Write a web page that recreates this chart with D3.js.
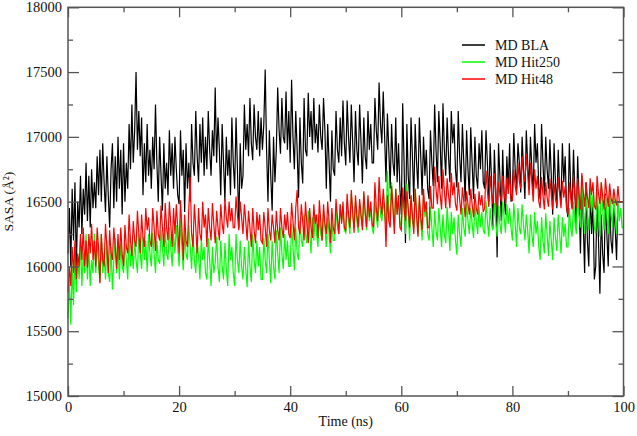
<!DOCTYPE html>
<html><head><meta charset="UTF-8">
<script src="https://cdn.jsdelivr.net/npm/d3@7"></script>
<style>
  body { margin: 0; background: white; }
  svg { font-family: "Liberation Serif", "Times New Roman", serif; }
  .tick text { font-family: "Liberation Serif", "Times New Roman", serif; font-size: 14.5px; fill: #111; }
  .tick line { stroke: #555; stroke-width: 1.3; }
</style>
</head>
<body>
<svg id="chart"></svg>
<script>
var seriesNames = ["MD BLA", "MD Hit250", "MD Hit48"];
var seriesColors = ["#000000", "#00ff00", "#ff0000"];

// SASA values, every 0.25 ns from 0 to 100 (one row = 5 ns)
var sasaBLA = [
  16100,16450,16000,16600,16200,16650,15980,16500,16300,16700,16250,16600,16400,16800,16350,16700,16300,16750,16450,16650,
  16450,16850,16550,16900,16500,16950,16650,16420,16850,16550,16300,16750,16950,16450,16850,16500,17000,16600,16900,16400,
  16950,16500,16800,16600,17100,16750,17250,16800,17050,17500,16900,17200,16850,17150,16550,16950,16650,17100,16700,16900,
  16600,17000,16750,17250,16800,16500,17000,16700,16430,16950,16600,16800,16550,17050,16700,16950,16600,17000,16750,16550,
  16480,17050,16700,16900,16420,16950,16600,16800,16500,17100,16800,16700,17200,16850,16650,17100,16800,17150,16700,17000,
  16750,17200,16900,16700,17050,16850,17380,16800,17150,16900,16550,17100,16800,16500,17000,16700,16900,16550,17150,16800,
  16600,17150,16750,16300,16950,16600,16700,17250,16900,17100,16850,17300,16950,16820,17250,17000,16900,17200,16850,17150,
  16900,17100,17520,16900,16500,17050,16700,16430,17000,16650,16900,17380,17050,16870,17300,17000,16950,17350,16900,17200,
  16800,17440,17000,16750,17200,16900,16530,17150,16800,16640,17300,16900,16850,17340,17000,17200,16900,17300,16950,17100,
  16880,17250,17000,16900,17300,17050,16600,17100,16800,16500,17050,16750,16700,17200,16900,16800,17150,16850,17280,16950,
  16780,17280,17000,16800,17250,16950,16650,17200,16900,16780,17250,16950,16640,17150,16850,16750,17200,16900,17100,16800,
  16800,17300,17050,16900,17420,17100,16950,17350,17000,16650,17180,16900,16600,17100,16800,16700,17150,16650,16950,16600,
  16400,17260,16800,16180,17100,16700,16520,17150,16850,16500,17100,16800,16600,17150,16850,16550,17000,16700,16900,16600,
  16520,17050,16800,16620,17250,16900,16650,17200,16950,16600,17260,16900,16700,17150,16850,16650,17200,16950,17100,16750,
  16610,17200,16850,16650,17100,16800,16500,17050,16750,16550,17075,16800,16520,17000,16700,16600,16950,16750,17050,16650,
  16600,17050,16800,16500,16950,16650,16300,16900,16600,16070,16950,16700,16350,16900,16550,16400,16850,16600,16950,16500,
  16550,17030,16750,16600,16950,16800,16570,17000,16750,16520,17050,16800,16600,17000,16750,16550,17100,16800,16950,16600,
  16520,17100,16800,16550,17000,16750,16600,16980,16700,16400,16950,16650,16450,16900,16600,16500,16950,16650,16850,16450,
  16380,16950,16600,16450,16900,16550,16300,16850,16500,16100,16700,16350,15950,16650,16200,16000,16600,16250,16500,15900,
  16000,16550,16200,15790,16400,16100,15950,16560,16250,16000,16500,16200,16100,16450,16300,16050,16500,16500,16500,16500,
  16500
];
var sasaHit250 = [
  15600,15900,15550,16000,15700,16100,15800,16050,15900,16200,15850,16100,15950,16250,15900,16150,15850,16050,15950,16250,
  15950,16200,16000,15880,16250,15950,16100,15900,16200,15950,15880,16150,15820,16050,16220,15950,16150,15900,16180,16000,
  15950,16180,16050,15900,16250,16000,16150,15980,16200,16050,15950,16250,16100,15980,16230,16050,16200,15960,16250,16100,
  16000,16260,16100,15950,16200,16050,16020,16280,16150,16000,16300,16100,16050,16300,16150,16000,16250,16100,16320,16150,
  16000,16360,16150,15970,16280,16100,16050,16320,16150,15980,16250,16050,15950,16200,16080,15900,16220,16050,16150,15950,
  15900,16220,16050,15850,16150,15950,16030,16230,16000,15880,16200,16000,15900,16180,15980,15850,16250,16050,16150,15950,
  15850,16250,16050,15950,16200,16000,15900,16150,15980,15840,16200,16000,15880,16250,16050,15950,16200,16000,16150,15900,
  15900,16220,16050,15950,16250,16050,15870,16200,16000,15900,16280,16100,15950,16300,16100,15980,16250,16050,16200,16000,
  16000,16330,16150,15970,16300,16100,16050,16350,16200,16150,16400,16250,16180,16430,16280,16100,16380,16200,16400,16250,
  16150,16400,16250,16200,16430,16300,16150,16380,16250,16100,16350,16200,16200,16450,16300,16250,16480,16350,16420,16280,
  16260,16500,16350,16250,16560,16400,16300,16500,16350,16260,16480,16380,16300,16560,16400,16280,16520,16350,16450,16300,
  16250,16500,16380,16300,16550,16400,16350,16500,16420,16300,16740,16450,16350,16650,16450,16300,16600,16400,16550,16350,
  16300,16600,16450,16250,16640,16400,16200,16550,16350,16300,16600,16400,16250,16500,16350,16200,16550,16380,16450,16250,
  16200,16460,16300,16150,16430,16280,16200,16450,16300,16150,16400,16250,16180,16460,16300,16120,16420,16250,16380,16200,
  16090,16400,16250,16150,16450,16300,16230,16490,16350,16250,16450,16330,16220,16480,16350,16250,16460,16300,16420,16280,
  16250,16500,16350,16230,16450,16320,16280,16490,16350,16230,16470,16330,16250,16500,16380,16260,16480,16330,16450,16300,
  16200,16490,16330,16150,16450,16300,16250,16480,16320,16200,16400,16280,16100,16400,16250,16150,16420,16250,16350,16150,
  16050,16380,16200,16100,16410,16250,16080,16350,16200,16050,16380,16220,16120,16400,16250,16100,16380,16230,16330,16150,
  16150,16450,16300,16230,16500,16350,16250,16600,16400,16300,16690,16450,16250,16550,16400,16280,16600,16420,16550,16300,
  16250,16600,16400,16230,16650,16450,16280,16550,16400,16250,16600,16420,16300,16550,16400,16250,16500,16350,16450,16300,
  16300
];
var sasaHit48 = [
  15800,16000,15850,16150,15950,16200,15900,16100,16000,16250,16050,16300,16000,16200,15990,16250,16100,16330,16050,16200,
  16000,16300,16150,15870,16250,16050,16000,16330,16150,15950,16280,16100,16050,16300,16150,15980,16250,16050,16300,16100,
  16000,16320,16150,16100,16400,16200,16080,16350,16200,16150,16430,16250,16100,16400,16220,16150,16450,16280,16380,16200,
  16150,16450,16300,16120,16430,16250,16200,16470,16300,16150,16490,16300,16200,16500,16330,16150,16450,16250,16480,16300,
  16100,16510,16300,16050,16400,16200,16150,16450,16690,16250,16150,16480,16300,16100,16450,16250,16200,16500,16300,16400,
  16150,16450,16300,16200,16490,16320,16180,16430,16300,16200,16480,16330,16250,16520,16380,16300,16500,16350,16450,16300,
  16300,16540,16400,16280,16500,16380,16250,16480,16350,16200,16430,16300,16150,16450,16280,16180,16420,16280,16400,16200,
  16180,16420,16300,16150,16450,16280,16200,16400,16300,16180,16430,16280,16200,16450,16300,16220,16400,16280,16420,16250,
  16220,16490,16350,16200,16450,16590,16300,16250,16480,16350,16200,16500,16330,16180,16450,16300,16220,16480,16330,16400,
  16220,16510,16350,16200,16480,16330,16250,16500,16350,16180,16450,16300,16250,16520,16380,16250,16480,16330,16500,16300,
  16280,16560,16400,16300,16590,16420,16260,16550,16400,16300,16520,16400,16280,16580,16420,16300,16550,16380,16500,16330,
  16300,16650,16450,16350,16690,16500,16400,16600,16450,16150,16550,16350,16300,16620,16450,16250,16600,16400,16550,16300,
  16280,16610,16450,16350,16580,16450,16300,16550,16400,16250,16600,16400,16230,16550,16380,16280,16600,16420,16500,16300,
  16300,16620,16450,16450,16770,16600,16480,16700,16550,16440,16750,16580,16450,16680,16550,16450,16720,16550,16650,16480,
  16430,16650,16520,16400,16610,16500,16380,16580,16480,16400,16600,16480,16380,16560,16450,16400,16580,16470,16550,16420,
  16450,16740,16580,16460,16700,16560,16480,16720,16580,16460,16650,16550,16500,16700,16580,16480,16680,16560,16720,16520,
  16510,16750,16620,16550,16800,16650,16600,16850,16700,16650,16870,16720,16550,16800,16650,16500,16750,16600,16700,16500,
  16450,16690,16550,16440,16650,16530,16460,16680,16550,16440,16640,16520,16470,16690,16560,16450,16660,16530,16620,16460,
  16400,16650,16530,16440,16700,16560,16450,16680,16550,16440,16720,16580,16460,16650,16540,16450,16680,16550,16650,16470,
  16440,16700,16560,16480,16650,16540,16440,16680,16560,16460,16640,16530,16480,16600,16520,16470,16620,16500,16500,16500,
  16500
];

var xTicks = [0, 20, 40, 60, 80, 100];
var xMinorTicks = [10, 30, 50, 70, 90];
var yTicks = [15000, 15500, 16000, 16500, 17000, 17500, 18000];
var yMinorTicks = [15250, 15750, 16250, 16750, 17250, 17750];

var width = 637, height = 436;
var padding = {top: 7.3, left: 68, bottom: 40, right: 13.5};

var svg = d3.select("#chart").attr("width", width).attr("height", height);

var xScale = d3.scaleLinear().domain([0, 100])
  .range([padding.left, width - padding.right]);
var yScale = d3.scaleLinear().domain([15000, 18000])
  .range([height - padding.bottom, padding.top]);

function tracePath(values) {
  var step = 100 / (values.length - 1);
  return d3.line()
    .x(function (d, i) { return xScale(i * step); })
    .y(function (d) { return yScale(d); })(values);
}

var allSeries = [sasaBLA, sasaHit250, sasaHit48];
svg.append("g").selectAll("path")
  .data(allSeries)
  .enter().append("path")
  .attr("d", tracePath)
  .attr("fill", "none")
  .attr("stroke", function (d, i) { return seriesColors[i]; })
  .attr("stroke-width", 1.2);

// axes, ticks pointing inward on all four sides
function addAxis(axis, tx, ty) {
  var g = svg.append("g").attr("transform", "translate(" + tx + "," + ty + ")").call(axis);
  g.select(".domain").remove();
  g.attr("font-family", null).attr("font-size", null);
  return g;
}
var y0 = height - padding.bottom, x1 = width - padding.right;

addAxis(d3.axisBottom(xScale).tickValues(xTicks).tickSizeInner(-10).tickSizeOuter(0).tickPadding(6), 0, y0);
addAxis(d3.axisBottom(xScale).tickValues(xMinorTicks).tickSizeInner(-5).tickSizeOuter(0).tickFormat(""), 0, y0);
addAxis(d3.axisTop(xScale).tickValues(xTicks).tickSizeInner(-10).tickSizeOuter(0).tickFormat(""), 0, padding.top);
addAxis(d3.axisTop(xScale).tickValues(xMinorTicks).tickSizeInner(-5).tickSizeOuter(0).tickFormat(""), 0, padding.top);

addAxis(d3.axisLeft(yScale).tickValues(yTicks).tickSizeInner(-11).tickSizeOuter(0).tickPadding(6).tickFormat(d3.format("d")), padding.left, 0);
addAxis(d3.axisLeft(yScale).tickValues(yMinorTicks).tickSizeInner(-5).tickSizeOuter(0).tickFormat(""), padding.left, 0);
addAxis(d3.axisRight(yScale).tickValues(yTicks).tickSizeInner(-11).tickSizeOuter(0).tickFormat(""), x1, 0);
addAxis(d3.axisRight(yScale).tickValues(yMinorTicks).tickSizeInner(-5).tickSizeOuter(0).tickFormat(""), x1, 0);

// frame
svg.append("rect")
  .attr("x", padding.left).attr("y", padding.top)
  .attr("width", x1 - padding.left).attr("height", y0 - padding.top)
  .attr("fill", "none").attr("stroke", "#555").attr("stroke-width", 1.5);

// axis titles
svg.append("text")
  .attr("x", (padding.left + x1) / 2).attr("y", 426)
  .attr("text-anchor", "middle").attr("font-size", 14).attr("fill", "#111")
  .text("Time (ns)");
svg.append("text")
  .attr("transform", "translate(13," + ((padding.top + y0) / 2) + ") rotate(-90)")
  .attr("text-anchor", "middle").attr("font-size", 13.5).attr("fill", "#111")
  .text("SASA (Å²)");

// legend
var legend = svg.append("g").selectAll("g")
  .data(seriesNames)
  .enter().append("g")
  .attr("transform", function (d, i) { return "translate(462," + (45 + i * 17) + ")"; });
legend.append("line")
  .attr("x1", 0).attr("x2", 23).attr("y1", 0).attr("y2", 0)
  .attr("stroke", function (d, i) { return seriesColors[i]; })
  .attr("stroke-width", 1.5);
legend.append("text")
  .attr("x", 33).attr("y", 5)
  .attr("font-size", 14).attr("fill", "#111")
  .text(function (d) { return d; });
</script>
</body></html>
